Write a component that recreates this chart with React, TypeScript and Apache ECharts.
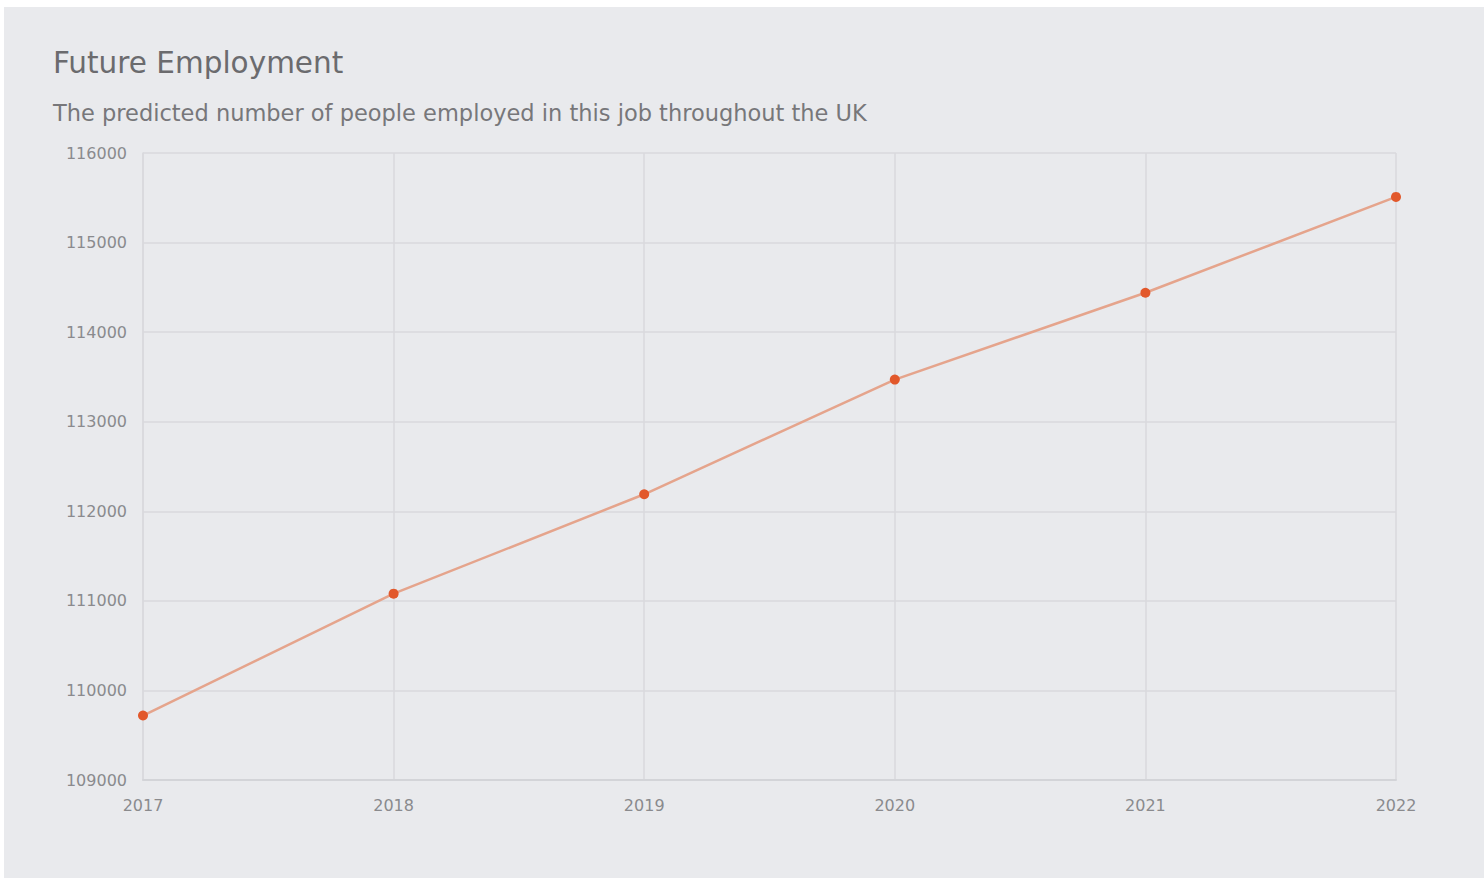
import React, { useEffect, useRef } from "react";
import * as echarts from "echarts";

const years = ["2017", "2018", "2019", "2020", "2021", "2022"];
const employment = [109720, 111080, 112190, 113470, 114440, 115510];
const titleText = "Future Employment";
const subtitleText = "The predicted number of people employed in this job throughout the UK";

export default function App() {
  const ref = useRef<HTMLDivElement>(null);
  useEffect(() => {
    if (!ref.current) return;
    const chart = echarts.init(ref.current, undefined, { renderer: "svg" });
    chart.setOption({
      animation: false,
      backgroundColor: "transparent",
      title: [
        {
          text: titleText,
          left: 48,
          top: 43,
          textStyle: { fontFamily: "DejaVu Sans", fontSize: 29.5, fontWeight: "normal", color: "#6b6b6e" },
        },
        {
          text: subtitleText,
          left: 48,
          top: 96,
          textStyle: { fontFamily: "DejaVu Sans", fontSize: 22.5, fontWeight: "normal", color: "#77777a" },
        },
      ],
      grid: { left: 143, right: 88, top: 153, bottom: 98, containLabel: false },
      xAxis: {
        type: "category",
        data: years,
        boundaryGap: false,
        axisLine: { show: true, lineStyle: { color: "#d3d4d8", width: 2 } },
        axisTick: { show: false },
        axisLabel: { color: "#8a8a8d", fontFamily: "DejaVu Sans", fontSize: 16, margin: 17 },
        splitLine: { show: true, lineStyle: { color: "#d8d9dd", width: 1.5 } },
      },
      yAxis: {
        type: "value",
        min: 109000,
        max: 116000,
        interval: 1000,
        axisLine: { show: true, lineStyle: { color: "#d8d9dd", width: 1.5 } },
        axisTick: { show: false },
        axisLabel: {
          color: "#8a8a8d",
          fontFamily: "DejaVu Sans",
          fontSize: 16,
          margin: 16,
          formatter: (v: number) => String(v),
        },
        splitLine: { show: true, lineStyle: { color: "#d8d9dd", width: 1.5 } },
      },
      series: [
        {
          type: "line",
          data: employment,
          symbol: "circle",
          symbolSize: 10,
          itemStyle: { color: "#e2582b" },
          lineStyle: { color: "#e5a48c", width: 2.5 },
        },
      ],
    });
    return () => chart.dispose();
  }, []);
  return (
    <div style={{ position: "fixed", left: 0, top: 0, width: 1484, height: 878, background: "#ffffff" }}>
      <div style={{ position: "absolute", left: 4, top: 7, width: 1480, height: 871, background: "#e9eaed" }} />
      <div ref={ref} style={{ position: "absolute", left: 0, top: 0, width: 1484, height: 878 }} />
    </div>
  );
}
